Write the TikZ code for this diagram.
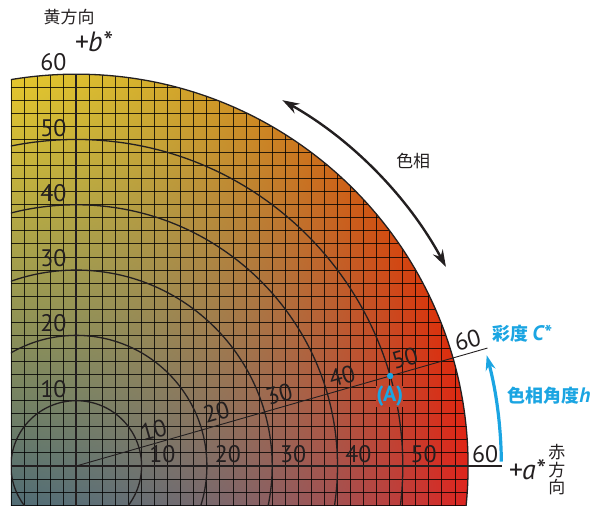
\documentclass[tikz,border=0pt]{standalone}
\usepackage{fontspec}
\setmainfont{PT Sans}
\newfontfamily\jp{Noto Sans CJK JP}
\usetikzlibrary{arrows.meta,calc}
\definecolor{ink}{HTML}{231F20}
\definecolor{cyanA}{HTML}{1BA5E2}
\definecolor{redA}{RGB}{194,66,44}

\pgfdeclarefunctionalshading{labplane}{\pgfpoint{-50bp}{-50bp}}{\pgfpoint{50bp}{50bp}}{}{
1.32 mul 27 add exch 1.4 mul 25 add exch
2 copy mul
2 index 0.0040 mul 3 index dup mul 0.000065 mul add 2 index 0.0078 mul add 1 index 0.000115 mul sub 0.40 add
4 1 roll
2 index dup mul 0.0000882 mul neg 2 index 0.00471 mul add 1 index 0.0000745 mul sub 0.4627 add
4 1 roll
pop
exch dup mul 0.0000941 mul neg exch 0.00431 mul sub 0.4392 add
}

\tikzset{
  gridline/.style={draw=black, draw opacity=0.8, line width=0.95bp},
  ring/.style={draw=ink, line width=1.3bp},
  axisline/.style={draw=ink, line width=2.4bp},
  num/.style={text=ink, font=\fontsize{24}{28}\selectfont, inner sep=0pt},
  jplab/.style={text=ink, font=\jp\fontsize{17}{17.5}\selectfont, inner sep=0pt, align=center},
  axlab/.style={text=ink, font=\itshape\fontsize{28}{30}\selectfont, inner sep=0pt},
  bluelab/.style={text=cyanA, font=\jp\bfseries\fontsize{18}{20}\selectfont, inner sep=0pt},
}

\begin{document}
\begin{tikzpicture}[x=6.53bp, y=6.53bp]
\useasboundingbox (-11.684,-6.126) rectangle (81.12,71.36);

% coloured disk with grid
\begin{scope}
  \clip (0,0) circle (60);
  \clip (-10,-6.2) rectangle (60,60);
  \shade[shading=labplane] (-10,-6) rectangle (60,60);
  \foreach \x in {-10,-8,...,60} \draw[gridline] (\x,-6.2) -- (\x,60);
  \foreach \y in {-6,-4,...,60} \draw[gridline] (-10,\y) -- (60,\y);
  \foreach \r in {10,20,30,40,50} \draw[ring] (0,0) circle (\r);
\end{scope}
\begin{scope}
  \clip (-10,-6.2) rectangle (61,61);
  \draw[ring] (0,0) circle (60);
\end{scope}

% axes
\coordinate (O) at (0,0);
\coordinate (xl) at (-10,0);
\coordinate (xr) at (65.2,0);
\coordinate (yb) at (0,-6.2);
\coordinate (yt) at (0,60);
\draw[axisline] (xl) -- (xr);
\draw[axisline] (yb) -- (yt);

% chroma line
\coordinate (cend) at (16:65.5);
\draw[draw=ink, line width=0.9bp] (O) -- (cend);

% y-axis numbers
\foreach \r in {10,20,30,40,50,60}
  \node[num] (y\r) at (-3.5,\r+1.8) {\r};
% x-axis numbers
\foreach \r in {10,20,30,40,50}
  \node[num] (x\r) at (\r+3.2,1.75) {\r};
\node[num] (x60) at (62.6,1.75) {60};
% chroma numbers
\foreach \r in {10,20,30,40,50,60}
  \node[num, rotate=16] (c\r) at ($(16:\r+2.9)+(106:2.0)$) {\r};

% point A
\coordinate (A) at (16:50);
\node[text=cyanA, fill=redA, font=\bfseries\fontsize{22}{24}\selectfont, inner sep=0.3bp] (Alab) at (48,10.7) {(A)};
\fill[cyanA] (A) circle (3.2bp);

% hue double arrow
\coordinate (h1) at (60.6:64.3);
\draw[draw=ink, line width=2.4bp, {Stealth[length=17bp,width=11bp]}-{Stealth[length=17bp,width=11bp]}]
  (h1) arc[start angle=60.6, end angle=28.3, radius=64.3];
\node[jplab] (hue) at (51.6,46.7) {色相};

% hue angle arrow
\coordinate (b1) at (0.6:65.1);
\draw[draw=cyanA, line width=3.2bp, -{Stealth[length=15bp,width=10bp]}]
  (b1) arc[start angle=0.6, end angle=15.1, radius=65.1];

% labels
\node[jplab] (ydir) at (-1.1,68.8) {黄方向};
\node[axlab] (bstar) at (2.6,65.0) {+b*};
\node[axlab] (astar) at (69.0,-0.6) {+a*};
\node[jplab] (xdir) at (73.6,-0.6) {赤\\方\\向};
\node[bluelab] (hlab) at (72.4,10.7) {色相角度{\rmfamily\fontsize{21}{22}\selectfont\itshape h}};
\node[bluelab] (clab) at (68.2,20.2) {彩度 {\rmfamily\fontsize{21}{22}\selectfont\itshape C*}};
\end{tikzpicture}
\end{document}
